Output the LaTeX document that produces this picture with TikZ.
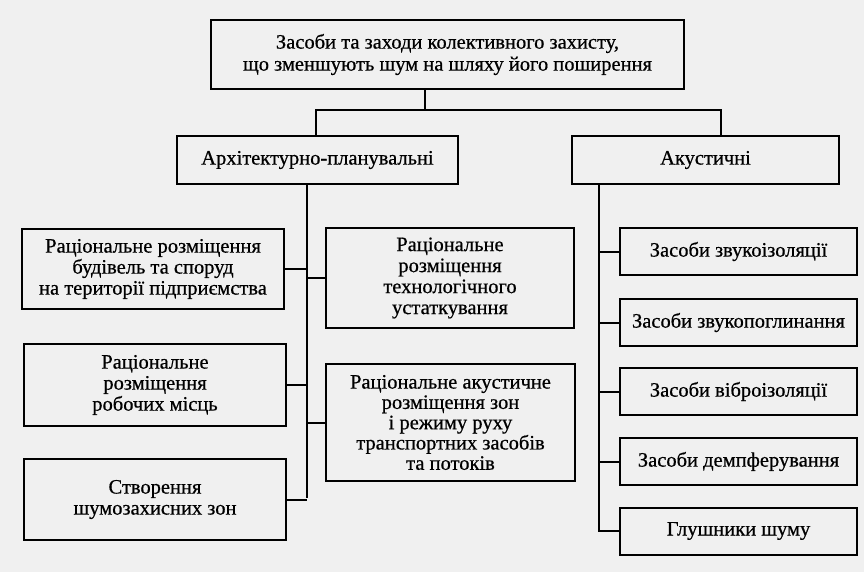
\documentclass[tikz,border=0pt]{standalone}
\usepackage{fontspec}
\setmainfont{Liberation Serif}[FakeBold=0.6]
\begin{document}
\begin{tikzpicture}[x=1pt,y=-1pt,
  box/.style={draw=black,line width=2pt,align=center,inner sep=0pt,
    font=\fontsize{20.5}{21}\selectfont},
  conn/.style={draw=black,line width=2pt}]
\fill[black!6] (0,0) rectangle (864,572);
\useasboundingbox (0,0) rectangle (864,572);
\node[box,minimum width=473pt,minimum height=69pt,font=\fontsize{20.5}{22}\selectfont] (top) at (447.5,54.5)
  {Засоби та заходи колективного захисту,\\що зменшують шум на шляху його поширення};
\node[box,minimum width=281pt,minimum height=48pt] (arch) at (317.5,160) {Архітектурно-планувальні};
\node[box,minimum width=267pt,minimum height=48pt] (acu) at (705.5,160) {Акустичні};
\node[box,minimum width=262pt,minimum height=80pt] (L1) at (153,269)
  {Раціональне розміщення\\будівель та споруд\\на території підприємства};
\node[box,minimum width=262pt,minimum height=82pt] (L2) at (155,385)
  {Раціональне\\розміщення\\робочих місць};
\node[box,minimum width=262pt,minimum height=81pt] (L3) at (155,499.5)
  {Створення\\шумозахисних зон};
\node[box,minimum width=248pt,minimum height=100pt] (M1) at (450,278)
  {Раціональне\\розміщення\\технологічного\\устаткування};
\node[box,minimum width=249pt,minimum height=117pt,font=\fontsize{20.5}{20.3}\selectfont] (M2) at (450.5,422.5)
  {Раціональне акустичне\\розміщення зон\\і режиму руху\\транспортних засобів\\та потоків};
\node[box,minimum width=237pt,minimum height=47pt] (Ra) at (738.5,251.5) {Засоби звукоізоляції};
\node[box,minimum width=237pt,minimum height=47pt] (Rb) at (738.5,322.5) {Засоби звукопоглинання};
\node[box,minimum width=237pt,minimum height=47pt] (Rc) at (738.5,391.5) {Засоби віброізоляції};
\node[box,minimum width=237pt,minimum height=47pt] (Rd) at (738.5,461.5) {Засоби демпферування};
\node[box,minimum width=237pt,minimum height=47pt] (Re) at (738.5,531) {Глушники шуму};
\coordinate (j) at (425,110);
\coordinate (ja) at (316,110);
\coordinate (jb) at (721,110);
\coordinate (lt) at (307,498);
\coordinate (rt) at (599,531);
\draw[conn] (j |- top.south) -- (j);
\draw[conn] (ja |- arch.north) -- (ja) -- (jb) -- (jb |- acu.north);
\draw[conn] (lt |- arch.south) -- (lt);
\draw[conn] (L1.east) -- (L1.east -| lt);
\draw[conn] (L2.east) -- (L2.east -| lt);
\draw[conn] (L3.east) -- (L3.east -| lt);
\draw[conn] (M1.west) -- (M1.west -| lt);
\draw[conn] (M2.west) -- (M2.west -| lt);
\draw[conn] (rt |- acu.south) -- (rt |- Re.west) -- (Re.west);
\draw[conn] (Ra.west) -- (Ra.west -| rt);
\draw[conn] (Rb.west) -- (Rb.west -| rt);
\draw[conn] (Rc.west) -- (Rc.west -| rt);
\draw[conn] (Rd.west) -- (Rd.west -| rt);
\end{tikzpicture}
\end{document}
